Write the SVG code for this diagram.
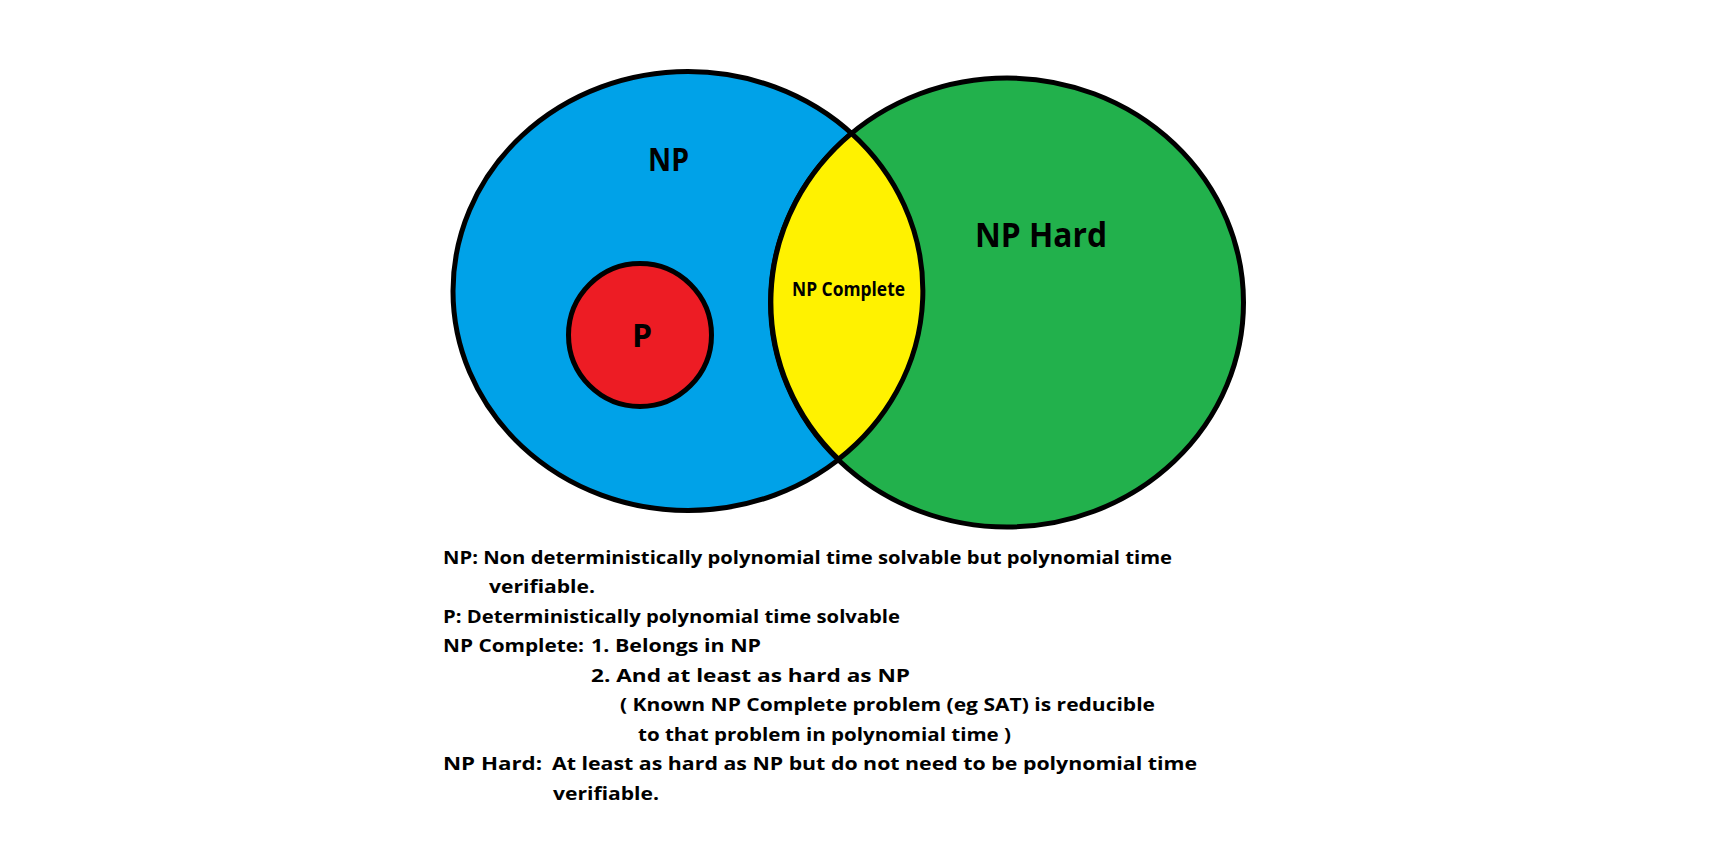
<svg xmlns="http://www.w3.org/2000/svg" width="1727" height="868" viewBox="0 0 1727 868">
<style>
  .ol { stroke: #000; stroke-width: 5; }
  .lbl { font-family: "Open Sans", "Liberation Sans", sans-serif; font-weight: 700; fill: #000; }
  .def { font-family: "Open Sans", "Liberation Sans", sans-serif; font-weight: 700; font-size: 18px; fill: #000; }
</style>
<rect width="1727" height="868" fill="#fff"/>
<g id="np">
  <ellipse cx="688" cy="291" rx="235" ry="219.5" fill="#00A2E8" class="ol"/>
  <text class="lbl" x="668.5" y="171" font-size="33" text-anchor="middle" textLength="41" lengthAdjust="spacingAndGlyphs">NP</text>
</g>
<g id="np-hard">
  <ellipse cx="1007" cy="302.5" rx="236.5" ry="224.5" fill="#22B14C" class="ol"/>
  <text class="lbl" x="975" y="247" font-size="34" textLength="132" lengthAdjust="spacingAndGlyphs">NP Hard</text>
</g>
<g id="np-complete">
  <path d="M 851.5 133.3 A 235 219.5 0 0 1 838.5 459.3 A 236.5 224.5 0 0 1 851.5 133.3 Z" fill="#FFF200" class="ol"/>
  <text class="lbl" x="792" y="296" font-size="19" textLength="113" lengthAdjust="spacingAndGlyphs">NP Complete</text>
</g>
<g id="p">
  <circle cx="640" cy="335" r="71.5" fill="#ED1C24" class="ol"/>
  <text class="lbl" x="642" y="346.5" font-size="32" text-anchor="middle">P</text>
</g>
<g id="definitions">
  <text class="def" x="443" y="563.5" textLength="729" lengthAdjust="spacingAndGlyphs">NP: Non deterministically polynomial time solvable but polynomial time</text>
  <text class="def" x="489" y="593" textLength="106" lengthAdjust="spacingAndGlyphs">verifiable.</text>
  <text class="def" x="443" y="622.5" textLength="457" lengthAdjust="spacingAndGlyphs">P: Deterministically polynomial time solvable</text>
  <text class="def" x="443" y="652" textLength="141" lengthAdjust="spacingAndGlyphs">NP Complete:</text>
  <text class="def" x="591" y="652" textLength="170" lengthAdjust="spacingAndGlyphs">1. Belongs in NP</text>
  <text class="def" x="591" y="681.5" textLength="319" lengthAdjust="spacingAndGlyphs">2. And at least as hard as NP</text>
  <text class="def" x="620" y="711" textLength="535" lengthAdjust="spacingAndGlyphs">( Known NP Complete problem (eg SAT) is reducible</text>
  <text class="def" x="638" y="740.5" textLength="373" lengthAdjust="spacingAndGlyphs">to that problem in polynomial time )</text>
  <text class="def" x="443" y="770" textLength="99" lengthAdjust="spacingAndGlyphs">NP Hard:</text>
  <text class="def" x="552" y="770" textLength="645" lengthAdjust="spacingAndGlyphs">At least as hard as NP but do not need to be polynomial time</text>
  <text class="def" x="553" y="799.5" textLength="106" lengthAdjust="spacingAndGlyphs">verifiable.</text>
</g>
</svg>
